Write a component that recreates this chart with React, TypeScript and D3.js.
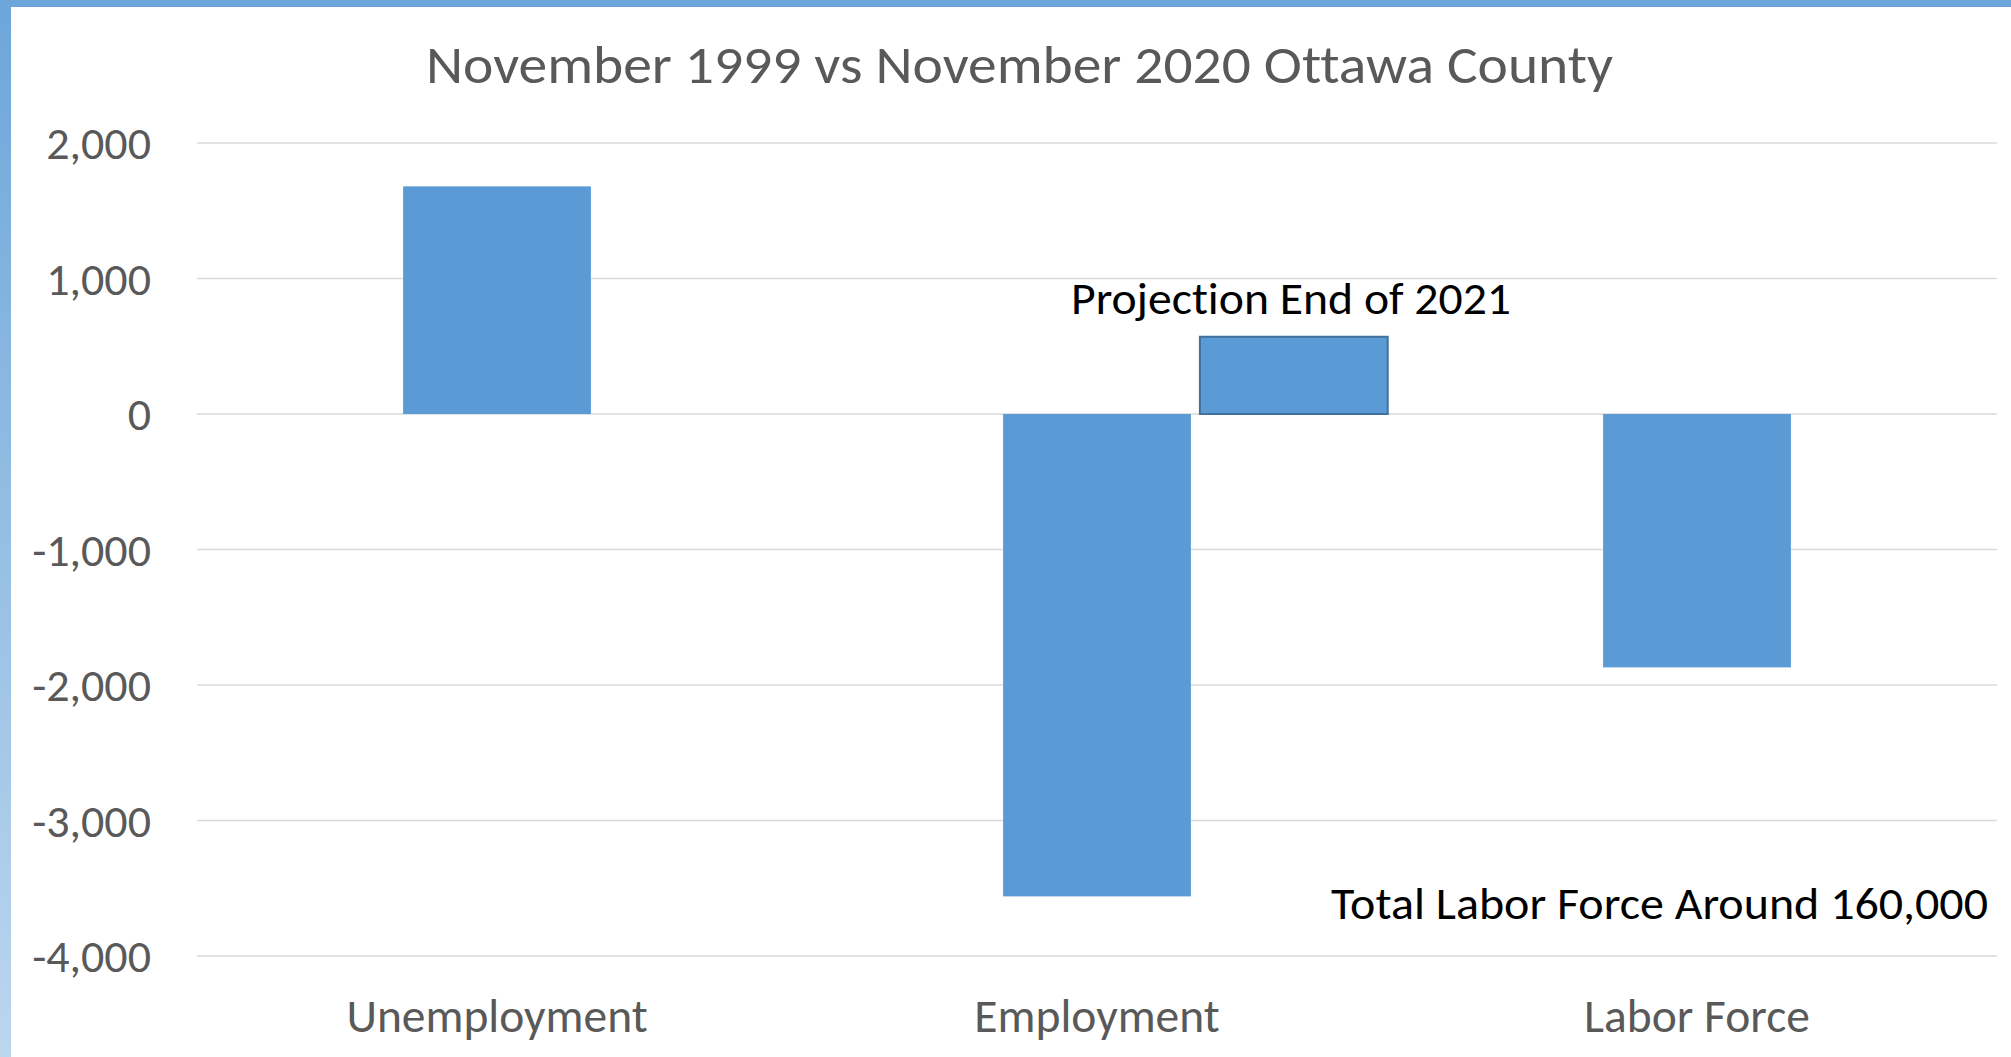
import React from "react";
import * as d3 from "d3";

const categories = ["Unemployment", "Employment", "Labor Force"];
const changeValues = [1680, -3560, -1870];
const projectionValue = 570;
const projectionCategory = "Employment";
const yTicks = [2000, 1000, 0, -1000, -2000, -3000, -4000];
const titleText = "November 1999 vs November 2020 Ottawa County";
const projectionLabel = "Projection End of 2021";
const noteLabel = "Total Labor Force Around 160,000";

const W = 2011;
const H = 1057;
const FONT = "Calibri, Carlito, Lato, 'Noto Sans', sans-serif";

export default function App() {
  const x = d3
    .scaleBand<string>()
    .domain(categories)
    .range([197, 1997])
    .paddingInner(0.687)
    .paddingOuter(0.3435);
  const y = d3.scaleLinear().domain([-4000, 2000]).range([956, 143]);
  const fmt = (v: number) => d3.format(",")(v).replace("\u2212", "-");
  const bw = x.bandwidth();
  const projX = (x(projectionCategory) as number) + bw + 9;
  const noLig = { fontVariantLigatures: "none" as const };

  return (
    <svg
      width={W}
      height={H}
      style={{ position: "absolute", left: 0, top: 0, display: "block", background: "#fff" }}
    >
      <defs>
        <linearGradient id="leftEdge" x1="0" y1="0" x2="0" y2="1">
          <stop offset="0" stopColor="#6ca6da" />
          <stop offset="1" stopColor="#bcd6ee" />
        </linearGradient>
      </defs>
      <rect x={0} y={0} width={W} height={H} fill="#fff" />
      <rect x={0} y={0} width={W} height={7} fill="#6ca6da" />
      <rect x={0} y={0} width={11} height={H} fill="url(#leftEdge)" />

      <text
        x={1019.5}
        y={83}
        textAnchor="middle"
        fontFamily={FONT}
        fontSize={54}
        fill="#595959"
        textLength={1187}
        lengthAdjust="spacingAndGlyphs"
        style={noLig}
      >
        {titleText}
      </text>

      {yTicks.map((t) => (
        <g key={t}>
          <line x1={197} x2={1997} y1={y(t)} y2={y(t)} stroke="#d9d9d9" strokeWidth={1.5} />
          <text
            x={151}
            y={y(t) + 16}
            textAnchor="end"
            fontFamily={FONT}
            fontSize={46}
            fill="#595959"
          >
            {fmt(t)}
          </text>
        </g>
      ))}

      {categories.map((c, i) => {
        const v = changeValues[i];
        const y0 = y(0);
        const yv = y(v);
        return (
          <rect
            key={c}
            x={x(c)}
            y={Math.min(y0, yv)}
            width={bw}
            height={Math.abs(yv - y0)}
            fill="#5b9bd5"
          />
        );
      })}

      <rect
        x={projX}
        y={y(projectionValue)}
        width={bw}
        height={y(0) - y(projectionValue)}
        fill="#5b9bd5"
        stroke="#41719c"
        strokeWidth={2}
      />

      {categories.map((c) => (
        <text
          key={c}
          x={(x(c) as number) + bw / 2}
          y={1032}
          textAnchor="middle"
          fontFamily={FONT}
          fontSize={47.5}
          fill="#595959"
          style={noLig}
        >
          {c}
        </text>
      ))}

      <text
        x={1291}
        y={314}
        textAnchor="middle"
        fontFamily={FONT}
        fontSize={46}
        fill="#000"
        textLength={440}
        lengthAdjust="spacingAndGlyphs"
        style={noLig}
      >
        {projectionLabel}
      </text>
      <text
        x={1988}
        y={919}
        textAnchor="end"
        fontFamily={FONT}
        fontSize={46}
        fill="#000"
        textLength={657}
        lengthAdjust="spacingAndGlyphs"
        style={noLig}
      >
        {noteLabel}
      </text>
    </svg>
  );
}
